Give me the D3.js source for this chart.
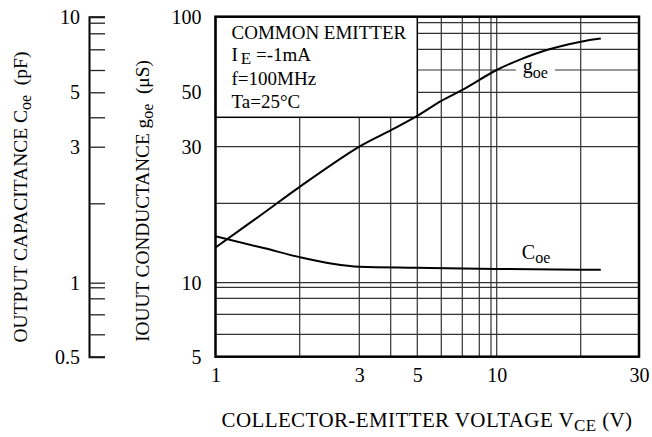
<!DOCTYPE html>
<html>
<head>
<meta charset="utf-8">
<script src="https://cdn.jsdelivr.net/npm/d3@7"></script>
<style>
  html, body { margin: 0; padding: 0; background: #fff; }
  svg text { font-family: "Liberation Serif", "Times New Roman", serif; fill: #000; }
</style>
</head>
<body>
<svg id="chart"></svg>
<script>
// grid values and labelled ticks
const vceGrid = [1, 2, 3, 4, 5, 6, 7, 8, 9, 10, 20, 30];
const vceLabels = [1, 3, 5, 10, 30];
const goeGrid = [5, 6, 7, 8, 9, 10, 20, 30, 40, 50, 60, 70, 80, 90, 100];
const goeLabels = [5, 10, 30, 50, 100];
const coeGrid = [0.5, 0.6, 0.7, 0.8, 0.9, 1, 2, 3, 4, 5, 6, 7, 8, 9, 10];
const coeLabels = [0.5, 1, 3, 5, 10];

// curves
const goeVce = [1, 1.5, 2, 3, 4, 5, 6, 7, 10, 12, 15, 20, 23];
const goeVal = [13.6, 18.5, 22.5, 30, 35.2, 40.5, 46.3, 51, 60, 64.6, 69.5, 74.6, 76.6];
const coeVce = [1, 1.5, 2, 2.5, 3, 5, 10, 20, 23];
const coeVal = [1.5, 1.35, 1.25, 1.18, 1.15, 1.14, 1.127, 1.12, 1.12];

const width = 652, height = 437;
// the printed log paper is not quite regular, so the scales are calibrated piecewise
const xStops = [215.5, 299.7, 359.3, 390.7, 417.3, 441.3, 462.3, 479.3, 491, 496.7, 580.7, 639];
const yStops = [356.7, 334.3, 314.3, 298.3, 287.3, 282.7, 203.3, 146.7, 117.3, 92.3, 70, 49.3, 33.3, 22.7, 16.7];

const svg = d3.select("#chart").attr("width", width).attr("height", height);

const x = d3.scaleLog().domain(vceGrid).range(xStops);
const y = d3.scaleLog().domain(goeGrid).range(yStops);
const yc = d3.scaleLog().domain(coeGrid).range(yStops);

const x0 = x(1), x1 = x(30), y0 = y(5), y1 = y(100);

// grid
const grid = svg.append("g").attr("stroke", "#333").attr("stroke-width", 1.2);
grid.selectAll(".vg")
  .data(vceGrid.slice(1, -1))
  .enter().append("line")
  .attr("x1", (d) => x(d)).attr("x2", (d) => x(d))
  .attr("y1", y0).attr("y2", y1);
grid.selectAll(".hg")
  .data(goeGrid.slice(1, -1))
  .enter().append("line")
  .attr("x1", x0).attr("x2", x1)
  .attr("y1", (d) => y(d)).attr("y2", (d) => y(d));

// condition box
svg.append("rect")
  .attr("x", x(1)).attr("y", y(100))
  .attr("width", x(5) - x(1)).attr("height", y(40) - y(100))
  .attr("fill", "#fff").attr("stroke", "#000").attr("stroke-width", 1.5);

const note = svg.append("g").attr("font-size", 19);
note.append("text").attr("x", 231.5).attr("y", 38.5).text("COMMON EMITTER");
const ie = note.append("text").attr("x", 231.5).attr("y", 61);
ie.append("tspan").text("I");
ie.append("tspan").attr("dx", 3).attr("dy", 3).attr("font-size", 17).text("E");
ie.append("tspan").attr("dy", -3).text(" =-1mA");
note.append("text").attr("x", 231.5).attr("y", 84.5).text("f=100MHz");
note.append("text").attr("x", 231.5).attr("y", 108).text("Ta=25\u00b0C");

// plot frame
svg.append("rect")
  .attr("x", x0).attr("y", y1)
  .attr("width", x1 - x0).attr("height", y0 - y1)
  .attr("fill", "none").attr("stroke", "#000").attr("stroke-width", 2.5);

// curves
const goeLine = d3.line().x((d) => x(d[0])).y((d) => y(d[1])).curve(d3.curveCatmullRom);
const coeLine = d3.line().x((d) => x(d[0])).y((d) => yc(d[1])).curve(d3.curveMonotoneX);

svg.append("path")
  .attr("d", goeLine(goeVce.map((v, i) => [v, goeVal[i]])))
  .attr("fill", "none").attr("stroke", "#000").attr("stroke-width", 2);
svg.append("path")
  .attr("d", coeLine(coeVce.map((v, i) => [v, coeVal[i]])))
  .attr("fill", "none").attr("stroke", "#000").attr("stroke-width", 2);

// curve labels
const gLab = svg.append("g");
const gText = gLab.append("text").attr("x", x(12.4)).attr("y", y(60) + 3).attr("font-size", 20);
gText.append("tspan").text("g");
gText.append("tspan").attr("dy", 5).attr("font-size", 16).text("oe");
const bb = gText.node().getBBox();
gLab.insert("rect", "text")
  .attr("x", bb.x - 7).attr("y", y(60) - 3)
  .attr("width", bb.width + 14).attr("height", 6)
  .attr("fill", "#fff");

const cText = svg.append("text").attr("x", x(12.3)).attr("y", yc(1.23)).attr("font-size", 20);
cText.append("tspan").text("C");
cText.append("tspan").attr("dy", 4).attr("font-size", 16).text("oe");

// axes
const fmt = (list) => (d) => (list.includes(d) ? String(d) : "");

svg.append("g")
  .attr("transform", `translate(0,${y0})`)
  .call(d3.axisBottom(x).tickValues(vceLabels).tickSize(0).tickPadding(11).tickFormat((d) => String(d)))
  .call((g) => g.select(".domain").remove())
  .selectAll("text").attr("font-size", 20).attr("font-family", "Liberation Serif");

svg.append("g")
  .attr("transform", `translate(${x0},0)`)
  .call(d3.axisLeft(y).tickValues(goeLabels).tickSize(0).tickPadding(14).tickFormat((d) => String(d)))
  .call((g) => g.select(".domain").remove())
  .selectAll("text").attr("font-size", 20).attr("font-family", "Liberation Serif");

const coeAxis = svg.append("g")
  .attr("transform", "translate(89,0)")
  .call(d3.axisLeft(yc).tickValues(coeGrid).tickSizeInner(-16).tickSizeOuter(-16).tickPadding(9).tickFormat(fmt(coeLabels)));
coeAxis.select(".domain").attr("stroke", "#000").attr("stroke-width", 2);
coeAxis.selectAll(".tick line").attr("stroke", "#222").attr("stroke-width", 1.3);
coeAxis.selectAll("text").attr("font-size", 20).attr("font-family", "Liberation Serif");

// titles
const t1 = svg.append("text")
  .attr("transform", "translate(27,197) rotate(-90)")
  .attr("text-anchor", "middle").attr("font-size", 19.5);
t1.append("tspan").text("OUTPUT CAPACITANCE C");
t1.append("tspan").attr("dy", 4).attr("font-size", 16).text("oe");
t1.append("tspan").attr("dy", -4).text("\u00a0\u00a0(pF)");

const t2 = svg.append("text")
  .attr("transform", "translate(149,201) rotate(-90)")
  .attr("text-anchor", "middle").attr("font-size", 19.3);
t2.append("tspan").text("IOUUT CONDUCTANCE g");
t2.append("tspan").attr("dy", 4).attr("font-size", 16).text("oe");
t2.append("tspan").attr("dy", -4).text("\u00a0\u00a0(\u03bcS)");

const t3 = svg.append("text")
  .attr("x", 427).attr("y", 427)
  .attr("text-anchor", "middle").attr("font-size", 21).attr("letter-spacing", 0.4);
t3.append("tspan").text("COLLECTOR-EMITTER VOLTAGE V");
t3.append("tspan").attr("dy", 4).attr("font-size", 17).text("CE");
t3.append("tspan").attr("dy", -4).text("\u00a0(V)");
</script>
</body>
</html>
